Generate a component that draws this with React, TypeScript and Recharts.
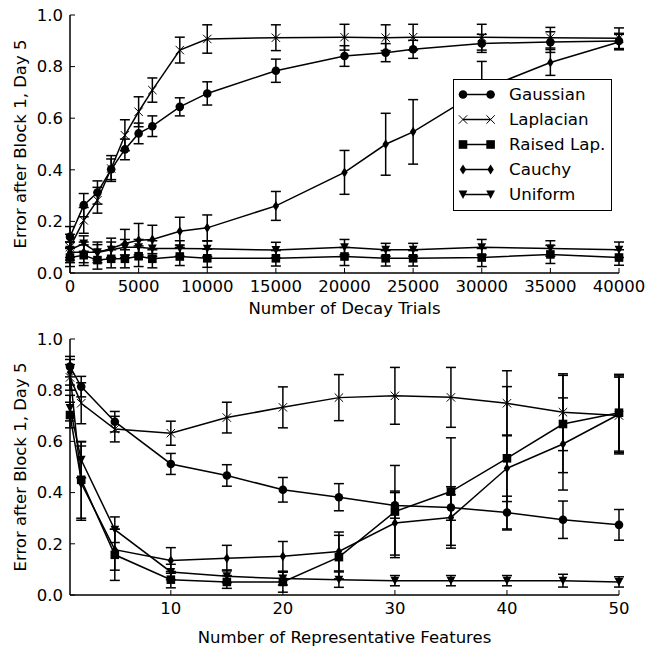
import { LineChart, Line, XAxis, YAxis, ErrorBar } from "recharts";

// top panel: error vs number of decay trials
const decayTrials = [0, 1000, 2000, 3000, 4000, 5000, 6000, 8000, 10000, 15000, 20000, 23000, 25000, 30000, 35000, 40000];
const gaussianDecay = [0.14, 0.263, 0.312, 0.402, 0.479, 0.541, 0.569, 0.644, 0.696, 0.784, 0.841, 0.854, 0.867, 0.89, 0.895, 0.899];
const gaussianDecayErr = [0.04, 0.045, 0.045, 0.04, 0.04, 0.04, 0.04, 0.035, 0.045, 0.045, 0.04, 0.035, 0.035, 0.035, 0.04, 0.03];
const laplacianDecay = [0.1, 0.204, 0.282, 0.405, 0.534, 0.625, 0.709, 0.864, 0.907, 0.912, 0.914, 0.912, 0.914, 0.914, 0.912, 0.91];
const laplacianDecayErr = [0.05, 0.05, 0.05, 0.05, 0.06, 0.058, 0.047, 0.05, 0.055, 0.05, 0.05, 0.05, 0.05, 0.05, 0.04, 0.04];
const raisedDecay = [0.06, 0.069, 0.05, 0.055, 0.055, 0.065, 0.055, 0.064, 0.057, 0.057, 0.064, 0.057, 0.057, 0.06, 0.072, 0.06];
const raisedDecayErr = [0.035, 0.04, 0.035, 0.035, 0.035, 0.04, 0.035, 0.035, 0.035, 0.03, 0.035, 0.03, 0.03, 0.035, 0.035, 0.03];
const cauchyDecay = [0.08, 0.08, 0.08, 0.095, 0.114, 0.127, 0.13, 0.162, 0.175, 0.26, 0.39, 0.499, 0.547, 0.71, 0.816, 0.895];
const cauchyDecayErr = [0.04, 0.04, 0.04, 0.04, 0.055, 0.065, 0.055, 0.054, 0.05, 0.056, 0.085, 0.12, 0.125, 0.11, 0.05, 0.03];
const uniformDecay = [0.09, 0.114, 0.08, 0.09, 0.1, 0.1, 0.095, 0.095, 0.094, 0.089, 0.1, 0.09, 0.09, 0.1, 0.095, 0.09];
const uniformDecayErr = [0.03, 0.03, 0.03, 0.03, 0.03, 0.03, 0.03, 0.03, 0.03, 0.03, 0.03, 0.025, 0.025, 0.03, 0.03, 0.03];
const decayTicks = [0, 5000, 10000, 15000, 20000, 25000, 30000, 35000, 40000];

// bottom panel: error vs number of representative features
const features = [1, 2, 5, 10, 15, 20, 25, 30, 35, 40, 45, 50];
const gaussianFeat = [0.892, 0.814, 0.677, 0.512, 0.467, 0.411, 0.382, 0.35, 0.342, 0.322, 0.294, 0.274];
const gaussianFeatErr = [0.04, 0.04, 0.04, 0.041, 0.042, 0.048, 0.053, 0.05, 0.05, 0.064, 0.073, 0.06];
const laplacianFeat = [0.85, 0.749, 0.648, 0.632, 0.693, 0.733, 0.771, 0.778, 0.772, 0.749, 0.714, 0.701];
const laplacianFeatErr = [0.05, 0.08, 0.05, 0.047, 0.06, 0.08, 0.09, 0.111, 0.117, 0.127, 0.15, 0.15];
const raisedFeat = [0.703, 0.45, 0.157, 0.06, 0.051, 0.051, 0.148, 0.326, 0.404, 0.534, 0.668, 0.712];
const raisedFeatErr = [0.05, 0.15, 0.1, 0.032, 0.025, 0.04, 0.085, 0.18, 0.21, 0.28, 0.19, 0.15];
const cauchyFeat = [0.87, 0.437, 0.177, 0.135, 0.144, 0.151, 0.17, 0.281, 0.303, 0.495, 0.59, 0.706];
const cauchyFeatErr = [0.05, 0.145, 0.08, 0.05, 0.05, 0.058, 0.076, 0.125, 0.12, 0.13, 0.18, 0.15];
const uniformFeat = [0.73, 0.528, 0.255, 0.09, 0.073, 0.064, 0.06, 0.056, 0.056, 0.056, 0.056, 0.051];
const uniformFeatErr = [0.05, 0.07, 0.05, 0.03, 0.025, 0.025, 0.03, 0.02, 0.02, 0.02, 0.025, 0.02];
const featureTicks = [10, 20, 30, 40, 50];

const errorTicks = [0, 0.2, 0.4, 0.6, 0.8, 1.0];

const series = [
  { name: "Gaussian", key: "gaussian", shape: "circle" },
  { name: "Laplacian", key: "laplacian", shape: "x" },
  { name: "Raised Lap.", key: "raised", shape: "square" },
  { name: "Cauchy", key: "cauchy", shape: "diamond" },
  { name: "Uniform", key: "uniform", shape: "triangle" },
];

const topData = decayTrials.map((x, i) => ({
  x,
  gaussian: gaussianDecay[i], gaussianErr: gaussianDecayErr[i],
  laplacian: laplacianDecay[i], laplacianErr: laplacianDecayErr[i],
  raised: raisedDecay[i], raisedErr: raisedDecayErr[i],
  cauchy: cauchyDecay[i], cauchyErr: cauchyDecayErr[i],
  uniform: uniformDecay[i], uniformErr: uniformDecayErr[i],
}));

const bottomData = features.map((x, i) => ({
  x,
  gaussian: gaussianFeat[i], gaussianErr: gaussianFeatErr[i],
  laplacian: laplacianFeat[i], laplacianErr: laplacianFeatErr[i],
  raised: raisedFeat[i], raisedErr: raisedFeatErr[i],
  cauchy: cauchyFeat[i], cauchyErr: cauchyFeatErr[i],
  uniform: uniformFeat[i], uniformErr: uniformFeatErr[i],
}));

const FONT = "DejaVu Sans";
const tickStyle = { fontSize: 16.5, fill: "#000", fontFamily: FONT };
const axisLine = { stroke: "#000", strokeWidth: 1.5 };
const tickLine = { stroke: "#000", strokeWidth: 1 };

function Marker({ shape, cx, cy }: { shape: string; cx: number; cy: number }) {
  if (cx == null || cy == null) return null;
  switch (shape) {
    case "circle":
      return <circle cx={cx} cy={cy} r={4.3} fill="#000" />;
    case "x":
      return (
        <g stroke="#000" strokeWidth={1}>
          <line x1={cx - 4.2} y1={cy - 4.2} x2={cx + 4.2} y2={cy + 4.2} />
          <line x1={cx - 4.2} y1={cy + 4.2} x2={cx + 4.2} y2={cy - 4.2} />
        </g>
      );
    case "square":
      return <rect x={cx - 4.3} y={cy - 4.3} width={8.6} height={8.6} fill="#000" />;
    case "diamond":
      return <polygon points={`${cx},${cy - 5} ${cx + 3.2},${cy} ${cx},${cy + 5} ${cx - 3.2},${cy}`} fill="#000" />;
    default:
      return <polygon points={`${cx - 4.4},${cy - 4} ${cx + 4.4},${cy - 4} ${cx},${cy + 4.4}`} fill="#000" />;
  }
}

function LegendBox() {
  return (
    <div
      style={{
        position: "absolute", left: 453, top: 79, width: 157, height: 130,
        border: "1px solid #000", background: "#fff", fontFamily: FONT, fontSize: 16.7,
      }}
    >
      {series.map((s, i) => (
        <div key={s.key} style={{ position: "absolute", left: 0, top: 1.5 + i * 25, height: 25, width: 157 }}>
          <svg width={50} height={25} style={{ position: "absolute", left: 0, top: 0 }}>
            <line x1={9} y1={12.5} x2={36.6} y2={12.5} stroke="#000" strokeWidth={1.5} />
            <Marker shape={s.shape} cx={9} cy={12.5} />
            <Marker shape={s.shape} cx={36.6} cy={12.5} />
          </svg>
          <span style={{ position: "absolute", left: 55, top: 0, lineHeight: "25px", whiteSpace: "nowrap" }}>{s.name}</span>
        </div>
      ))}
    </div>
  );
}

function Panel({ data, domain, ticks, xLabel, height, xAxisHeight, labelOffset }: any) {
  return (
    <LineChart
      width={648}
      height={height}
      data={data}
      margin={{ top: 15, right: 29, bottom: 0, left: 0 }}
      style={{ fontFamily: FONT }}
    >
      <XAxis
        dataKey="x" type="number" domain={domain} ticks={ticks} interval={0}
        height={xAxisHeight} tickSize={-5} tickMargin={12}
        axisLine={axisLine} tickLine={tickLine} tick={tickStyle}
        label={{ value: xLabel, position: "insideBottom", offset: labelOffset, fill: "#000", fontSize: 16.5, fontFamily: FONT }}
      />
      <XAxis
        xAxisId="top" orientation="top" dataKey="x" type="number" domain={domain} ticks={ticks} interval={0}
        height={0} tickSize={-5} axisLine={axisLine} tickLine={tickLine} tick={false}
      />
      <YAxis
        type="number" domain={[0, 1]} ticks={errorTicks} interval={0} width={70}
        tickSize={-5} tickMargin={12} tickFormatter={(v: number) => v.toFixed(1)}
        axisLine={axisLine} tickLine={tickLine} tick={tickStyle}
        label={{
          value: "Error after Block 1, Day 5", angle: -90, position: "insideLeft", offset: 20,
          style: { textAnchor: "middle" }, fill: "#000", fontSize: 16.5, fontFamily: FONT,
        }}
      />
      <YAxis
        yAxisId="right" orientation="right" type="number" domain={[0, 1]} ticks={errorTicks} interval={0}
        width={0} tickSize={-5} axisLine={axisLine} tickLine={tickLine} tick={false}
      />
      {series.map((s) => (
        <Line
          key={s.key}
          dataKey={s.key}
          stroke="#000"
          strokeWidth={1.5}
          isAnimationActive={false}
          dot={(p: any) => <Marker key={`${s.key}-${p.index}`} shape={s.shape} cx={p.cx} cy={p.cy} />}
          activeDot={false}
        >
          <ErrorBar dataKey={`${s.key}Err`} width={5} strokeWidth={1.5} stroke="#000" isAnimationActive={false} />
        </Line>
      ))}
    </LineChart>
  );
}

export default function App() {
  return (
    <div style={{ position: "absolute", left: 0, top: 0, width: 648, height: 649, background: "#fff" }}>
      <Panel
        data={topData} domain={[0, 40000]} ticks={decayTicks} xLabel="Number of Decay Trials"
        height={324} xAxisHeight={51} labelOffset={10}
      />
      <Panel
        data={bottomData} domain={[1, 50]} ticks={featureTicks} xLabel="Number of Representative Features"
        height={325} xAxisHeight={54} labelOffset={6}
      />
      <LegendBox />
    </div>
  );
}
